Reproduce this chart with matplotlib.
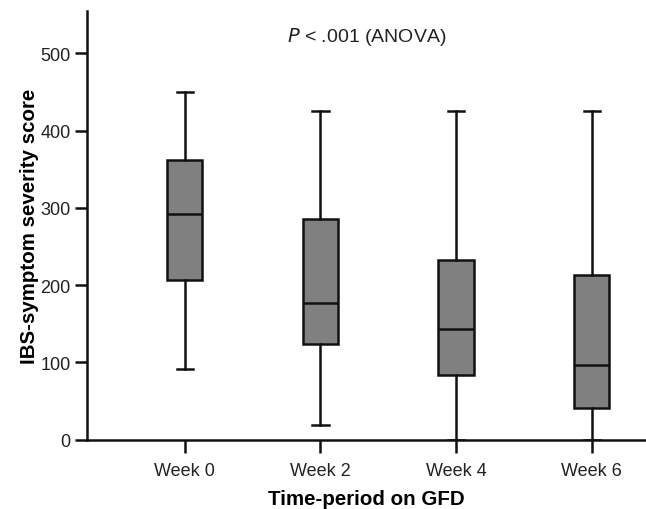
import matplotlib
matplotlib.use("Agg")
import matplotlib.pyplot as plt

plt.rcParams['font.family'] = ['Liberation Sans', 'DejaVu Sans']

categories = ["Week 0", "Week 2", "Week 4", "Week 6"]
whisker_low = [91, 19, 0, 0]
q1 = [207, 124, 83, 41]
median = [292, 177, 143, 97]
q3 = [362, 285, 232, 213]
whisker_high = [450, 425, 425, 425]
yticks = [0, 100, 200, 300, 400, 500]

fig = plt.figure(figsize=(6.46, 5.10), dpi=100)
ax = fig.add_axes([0.135, 0.136, 0.865, 0.841])

stats = []
for i, c in enumerate(categories):
    stats.append(dict(label=c, whislo=whisker_low[i], q1=q1[i], med=median[i],
                      q3=q3[i], whishi=whisker_high[i], fliers=[]))

lw = 1.8
ax.bxp(stats, positions=range(len(categories)), widths=0.26, patch_artist=True,
       showfliers=False, capwidths=0.12,
       boxprops=dict(facecolor='#808080', edgecolor='#111111', linewidth=lw),
       medianprops=dict(color='#111111', linewidth=lw),
       whiskerprops=dict(color='#111111', linewidth=lw),
       capprops=dict(color='#111111', linewidth=lw))

ax.set_xlim(-0.72, 3.4)
ax.set_ylim(0, 555)
ax.set_yticks(yticks)
ax.set_xticks(range(len(categories)))
ax.set_xticklabels(categories)
for s in ['top', 'right']:
    ax.spines[s].set_visible(False)
for s in ['left', 'bottom']:
    ax.spines[s].set_linewidth(lw)
    ax.spines[s].set_color('#111111')
ax.tick_params(axis='y', length=9, width=lw, color='#111111', labelsize=13,
               labelcolor='#222222', pad=3)
ax.tick_params(axis='x', length=9, width=lw, color='#111111', labelsize=13,
               labelcolor='#222222', pad=7)

ax.set_ylabel("IBS-symptom severity score", fontsize=14.8, fontweight='bold', labelpad=1)
ax.set_xlabel("Time-period on GFD", fontsize=14.8, fontweight='bold', labelpad=7)

ax.text(0.5, 0.94, r"$\it{P}$ < .001 (ANOVA)", transform=ax.transAxes, ha='center',
        va='center', fontsize=14, color='#222222')

fig.savefig("out.png", dpi=100)
